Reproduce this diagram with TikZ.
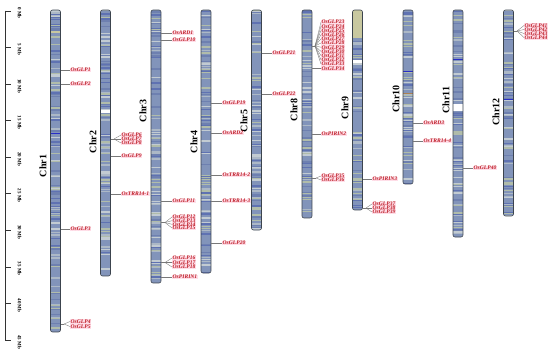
\documentclass[tikz,border=0pt]{standalone}
\usepackage{fontspec}
\setmainfont{Liberation Serif}
\definecolor{chrbase}{RGB}{130,148,186}
\definecolor{band1}{RGB}{95,114,178}
\definecolor{band2}{RGB}{172,184,198}
\definecolor{band3}{RGB}{176,188,170}
\definecolor{band4}{RGB}{110,128,176}
\definecolor{band5}{RGB}{194,203,210}
\definecolor{chredge}{RGB}{60,68,78}
\definecolor{genered}{RGB}{190,30,40}
\definecolor{genebg}{RGB}{255,222,232}
\definecolor{linegray}{RGB}{120,120,120}
\definecolor{khaki}{RGB}{200,200,160}
\definecolor{deepblue}{RGB}{40,45,200}
\tikzset{
 gene/.style={font=\fontsize{5.6}{5.6}\selectfont\bfseries\itshape, text=genered, fill=genebg, inner sep=0.5pt, anchor=west},
 gline/.style={draw=linegray, line width=0.35pt},
 chrlab/.style={font=\fontsize{10}{10}\selectfont\bfseries, rotate=90},
 rulerlab/.style={font=\fontsize{5}{5}\selectfont\bfseries, rotate=-90},
 chrbox/.style={draw=chredge, line width=0.6pt, rounded corners=2pt, minimum width=10pt, inner sep=0pt, outer sep=0pt, anchor=north west}
}
\newcommand{\chrom}[4]{%
 \pgfmathsetseed{#4}%
 \pgfmathtruncatemacro{\nb}{(#3-10)/2.8}%
 \begin{scope}
  \clip[rounded corners=2pt] (#2,10) rectangle (#2+10,#3);
  \fill[chrbase] (#2,10) rectangle (#2+10,#3);
  \foreach \k in {1,...,\nb}{
    \pgfmathsetmacro{\yy}{10+rnd*(#3-10)}
    \pgfmathsetmacro{\hh}{0.5+rnd*1.5}
    \pgfmathrandominteger{\cc}{1}{5}
    \fill[band\cc] (#2,\yy) rectangle (#2+10,\yy+\hh);
  }
 \end{scope}
}
\newcommand{\chrframe}[3]{\node[chrbox, minimum height={(#3-10)*1pt}] (#1) at (#2,10) {};}
\newcommand{\gene}[5]{% chr, y, labelx, text, name
 \node[gene] (#5) at (#3,#2) {#4};
 \draw[gline] (#1.east |- #5.west) -- (#5.west);
}
\newcommand{\cgene}[5]{% conv point, y, labelx, text, name
 \node[gene] (#5) at (#3,#2) {#4};
 \draw[gline] (#1) -- (#5.west);
}
\begin{document}
\begin{tikzpicture}[x=1pt,y=-1pt]
\useasboundingbox (0,0) rectangle (550,354);
% ruler
\coordinate (rtop) at (5.5,10.5);
\coordinate (rbot) at (5.5,340.5);
\draw[line width=0.6pt, black!80] (rtop) -- (rbot);
\foreach \k in {0,5,...,45}{
  \coordinate (t\k) at (5.5,{11+7.31*\k});
  \draw[line width=0.6pt, black!80] (t\k) -- ++(5,0);
  \node[rulerlab] (rl\k) at (19.5,{13+7.31*\k}) {\k\ Mb};
}
% chromosome fills
\chrom{c1}{50.5}{332}{11}
\chrom{c2}{100.5}{276}{22}
\chrom{c3}{151}{283}{33}
\chrom{c4}{201}{273}{44}
\chrom{c5}{251.5}{230}{55}
\chrom{c8}{302}{218}{88}
\chrom{c9}{352.5}{210}{99}
\chrom{c10}{403}{184}{100}
\chrom{c11}{453}{237}{111}
\chrom{c12}{503.5}{216}{122}
% special bands
\fill[khaki] (50.5,31) rectangle (60.5,33);
\fill[deepblue] (50.5,132.5) rectangle (60.5,134);
\fill[white] (100.5,110) rectangle (110.5,113);
\fill[khaki] (352.6,10.3) rectangle (362.4,38);
\fill[white] (352.5,60) rectangle (362.5,63);
\fill[band1] (352.5,48) rectangle (362.5,49.5);
\fill[deepblue] (403,70.5) rectangle (413,72);
\fill[brown!70!gray] (403,92.5) rectangle (413,94);
\fill[deepblue] (453,58.5) rectangle (463,60);
\fill[white] (453,104) rectangle (463,111);
\fill[deepblue] (503.5,98.5) rectangle (513.5,100);
% chromosome frames
\chrframe{c1}{50.5}{332}
\chrframe{c2}{100.5}{276}
\chrframe{c3}{151}{283}
\chrframe{c4}{201}{273}
\chrframe{c5}{251.5}{230}
\chrframe{c8}{302}{218}
\chrframe{c9}{352.5}{210}
\chrframe{c10}{403}{184}
\chrframe{c11}{453}{237}
\chrframe{c12}{503.5}{216}
% chromosome labels
\node[chrlab] (l1) at (43,166) {Chr1};
\node[chrlab] (l2) at (93,142) {Chr2};
\node[chrlab] (l3) at (143,111) {Chr3};
\node[chrlab] (l4) at (194,142) {Chr4};
\node[chrlab] (l5) at (244,121) {Chr5};
\node[chrlab] (l8) at (294,110) {Chr8};
\node[chrlab] (l9) at (345,108) {Chr9};
\node[chrlab] (l10) at (396,99) {Chr10};
\node[chrlab] (l11) at (446,100) {Chr11};
\node[chrlab] (l12) at (496,112) {Chr12};
% Chr1
\gene{c1}{70}{70}{OsGLP1}{g1}
\gene{c1}{84}{70}{OsGLP2}{g2}
\gene{c1}{229}{70}{OsGLP3}{g3}
\coordinate (p1) at (64,324);
\draw[gline] (c1.east |- p1) -- (p1);
\cgene{p1}{321.5}{70}{OsGLP4}{g4}
\cgene{p1}{326.5}{70}{OsGLP5}{g5}
% Chr2
\coordinate (p2) at (114,139);
\draw[gline] (c2.east |- p2) -- (p2);
\cgene{p2}{135}{121}{OsGLP6}{g6}
\cgene{p2}{139}{121}{OsGLP7}{g7}
\cgene{p2}{143}{121}{OsGLP8}{g8}
\gene{c2}{156}{121}{OsGLP9}{g9}
\gene{c2}{194}{121}{OsTRR14-1}{t1}
% Chr3
\gene{c3}{33}{172}{OsARD1}{a1}
\gene{c3}{40}{172}{OsGLP10}{g10}
\gene{c3}{201}{172}{OsGLP11}{g11}
\coordinate (p3a) at (165,222.5);
\draw[gline] (c3.east |- p3a) -- (p3a);
\cgene{p3a}{217}{172}{OsGLP12}{g12}
\cgene{p3a}{220.7}{172}{OsGLP13}{g13}
\cgene{p3a}{224.3}{172}{OsGLP14}{g14}
\cgene{p3a}{228}{172}{OsGLP15}{g15}
\coordinate (p3b) at (165,262.5);
\draw[gline] (c3.east |- p3b) -- (p3b);
\cgene{p3b}{258}{172}{OsGLP16}{g16}
\cgene{p3b}{262.5}{172}{OsGLP17}{g17}
\cgene{p3b}{267}{172}{OsGLP18}{g18}
\gene{c3}{277}{172}{OsPIRIN1}{pi1}
% Chr4
\gene{c4}{103}{222}{OsGLP19}{g19}
\gene{c4}{133}{222}{OsARD2}{a2}
\gene{c4}{175}{222}{OsTRR14-2}{t2}
\gene{c4}{201}{222}{OsTRR14-3}{t3}
\gene{c4}{243}{222}{OsGLP20}{g20}
% Chr5
\gene{c5}{53}{272}{OsGLP21}{g21}
\gene{c5}{94}{272}{OsGLP22}{g22}
% Chr8
\coordinate (p8a) at (315,46);
\draw[gline] (c8.east |- p8a) -- (p8a);
\foreach \i [evaluate=\i as \yy using {22+4.2*(\i-23)}] in {23,...,33}{
  \cgene{p8a}{\yy}{321}{OsGLP\i}{g\i}
}
\gene{c8}{68.5}{321}{OsGLP34}{g34}
\gene{c8}{134}{321}{OsPIRIN2}{pi2}
\coordinate (p8b) at (316,178);
\draw[gline] (c8.east |- p8b) -- (p8b);
\cgene{p8b}{176}{321}{OsGLP35}{g35}
\cgene{p8b}{180}{321}{OsGLP36}{g36}
% Chr9
\gene{c9}{179}{372}{OsPIRIN3}{pi3}
\coordinate (p9) at (366,208);
\draw[gline] (c9.east |- p9) -- (p9);
\cgene{p9}{204}{372}{OsGLP37}{g37}
\cgene{p9}{208}{372}{OsGLP38}{g38}
\cgene{p9}{212}{372}{OsGLP39}{g39}
% Chr10
\gene{c10}{123}{423}{OsARD3}{a3}
\gene{c10}{141}{423}{OsTRR14-4}{t4}
% Chr11
\gene{c11}{168}{473}{OsGLP40}{g40}
% Chr12
\coordinate (p12) at (517,31);
\draw[gline] (c12.east |- p12) -- (p12);
\cgene{p12}{25.5}{524}{OsGLP41}{g41}
\cgene{p12}{29.5}{524}{OsGLP42}{g42}
\cgene{p12}{33.5}{524}{OsGLP43}{g43}
\cgene{p12}{37.5}{524}{OsGLP44}{g44}
\end{tikzpicture}
\end{document}
